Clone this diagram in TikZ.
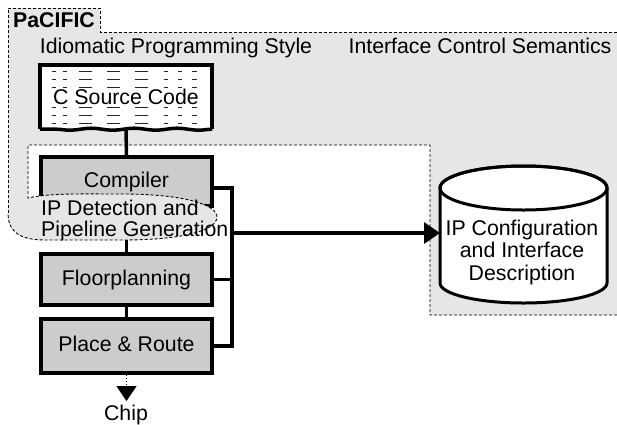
\documentclass[tikz,border=0pt]{standalone}
\usepackage{fontspec}
\setmainfont{Liberation Sans}
\usetikzlibrary{arrows.meta,decorations.pathmorphing,backgrounds}
\definecolor{regiongray}{HTML}{E6E6E6}
\definecolor{boxgray}{HTML}{CCCCCC}
\begin{document}
\begin{tikzpicture}[x=1pt,y=-1pt,
  font=\fontsize{21.3}{22.5}\selectfont,
  stagebox/.style={draw, line width=3.5pt, fill=boxgray, minimum width=171pt, inner sep=0pt, text height=15pt, text depth=4pt},
  regionline/.style={line width=0.9pt, dash pattern=on 3pt off 2pt},
  conn/.style={line width=3.5pt},
  codeline/.style={line width=0.8pt, black!85},
  dbline/.style={line width=3pt},
]
\useasboundingbox (0,0) rectangle (617,424);
% grey PaCIFIC region
\fill[regiongray] (8,8) -- (100,8) -- (100,32) -- (617,32) -- (617,315) -- (430,315) -- (430,145) -- (28,145) -- (28,198) -- (8,198) -- cycle;

% stages
\node[stagebox, minimum height=49pt] (comp) at (126.5,181.5) {Compiler};
\node[stagebox, minimum height=51pt] (fp) at (126.5,279.5) {Floorplanning};
\node[stagebox, minimum height=54pt] (pr) at (126.5,346) {Place \& Route};
\begin{scope}[on background layer]
\draw[conn] (comp) -- (fp);
\end{scope}
\draw[conn] (fp) -- (pr);

% IP detection bubble (part of the region)
\fill[regiongray] (8,198) -- (28,198) .. controls (50,193) and (80,194) .. (122,194) .. controls (185,194) and (217,205) .. (217,217) .. controls (217,230) and (185,240) .. (122,240) -- (45,240) .. controls (15,240) and (8,228) .. (8,213) -- cycle;
\draw[regionline] (8,213) -- (8,8) -- (100,8) -- (100,32) -- (617,32);
\draw[regionline] (617,315) -- (430,315) -- (430,145) -- (28,145) -- (28,198) .. controls (50,193) and (80,194) .. (122,194) .. controls (185,194) and (217,205) .. (217,217) .. controls (217,230) and (185,240) .. (122,240) -- (45,240) .. controls (15,240) and (8,228) .. (8,213);
\node[align=left, anchor=west, inner sep=0pt, font=\fontsize{21.3}{21}\selectfont] (ipd) at (41,220) {IP Detection and\\Pipeline Generation};

% labels
\node[anchor=base, font=\fontsize{21.3}{22.5}\selectfont\bfseries] (pacific) at (54,27) {PaCIFIC};
\node[anchor=base] (ips) at (176,53) {Idiomatic Programming Style};
\node[anchor=base] (ics) at (480,53) {Interface Control Semantics};

% C source code document
\node[fill=white, minimum width=172pt, minimum height=64pt, inner sep=0pt, text height=15pt, text depth=0pt] (doc) at (126,97) {C Source Code};
\foreach \yy in {71,79,87,107,115,123}{
  \foreach \xa/\xb in {52/56,63/67,79/92,107/120,135/148,164/168,178/182,192/197}{
    \draw[codeline] (\xa,\yy) -- (\xb,\yy);
  }
}
\draw[line width=3.5pt, line join=miter] (doc.south west) -- (doc.north west) -- (doc.north east) -- (doc.south east);
\draw[line width=3.5pt, decorate, decoration={snake, segment length=43pt, amplitude=1pt}] (doc.south east) -- (doc.south west);
\draw[conn] (doc.south) -- (comp.north);

% bus to database
\coordinate (busTop) at (232,188);
\coordinate (busBot) at (232,346);
\coordinate (busArrow) at (232,233);
\coordinate (dbleft) at (440,233);
\draw[conn] ([yshift=-6.5pt]comp.east) -- (busTop) -- (busBot) -- (pr.east);
\draw[conn] (fp.east) -- (fp.east -| busTop);

% database
\filldraw[dbline, fill=white] (440,188) -- (440,283) arc[start angle=180, end angle=0, x radius=83.5, y radius=20] -- (607,188) arc[start angle=0, end angle=-180, x radius=83.5, y radius=22] -- cycle;
\draw[dbline] (523.5,188) ellipse[x radius=83.5, y radius=22];
\node[align=center] (db) at (522,252) {IP Configuration\\and Interface\\Description};
\draw[conn, -{Triangle[length=16pt, width=21pt]}] (busArrow) -- (dbleft);

% chip
\node[anchor=base] (chip) at (126,420) {Chip};
\draw[line width=1pt, dotted, -{Triangle[length=15pt, width=20pt]}] (pr.south) -- (pr.south |- chip.north);
\end{tikzpicture}
\end{document}
